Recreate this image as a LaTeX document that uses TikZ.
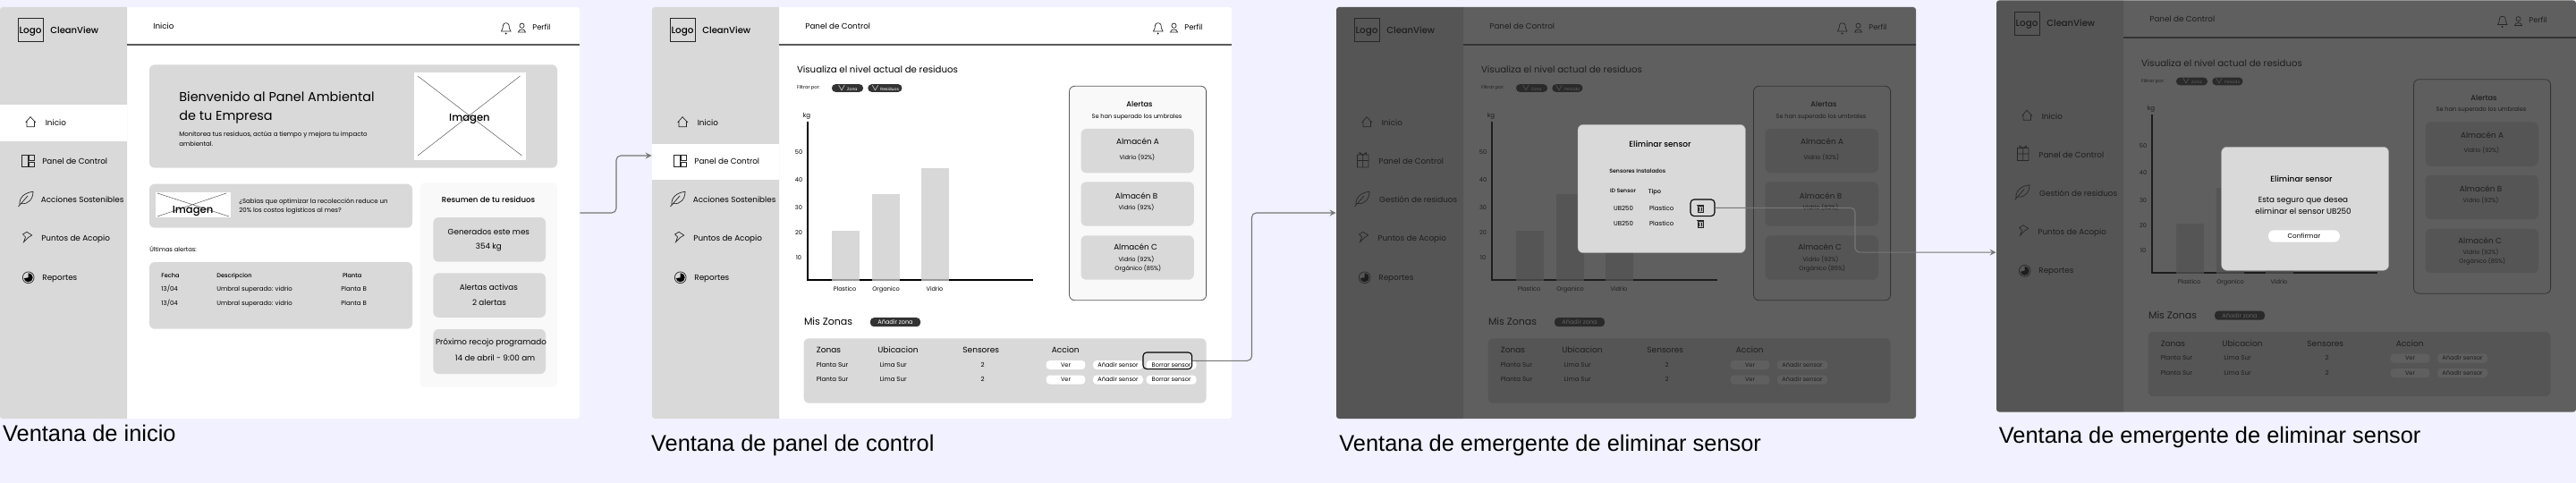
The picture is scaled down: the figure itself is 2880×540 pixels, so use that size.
\documentclass[tikz,border=0pt]{standalone}
\usepackage{fontspec}
\setmainfont{Poppins}
\newfontfamily\capfont{Liberation Sans}
\newfontfamily\medfont{Poppins Medium}
\definecolor{pagebg}{HTML}{F1F1FF}
\definecolor{cardgray}{HTML}{D9D9D9}
\definecolor{softgray}{HTML}{F9F9F9}
\definecolor{chipdark}{HTML}{333333}
\definecolor{linegray}{HTML}{5A5A5A}
\definecolor{linkgray}{HTML}{767676}
\definecolor{dimgray}{HTML}{282828}
\newcommand{\fs}[1]{\fontsize{#1}{#1}\selectfont}

% side bar and header of every screen
\newcommand{\screenshell}[4]{
    \node [screenbox] (frame) at (324,238) {};
    \fill [cardgray] (142,8) [rounded corners=1.5pt] -- (0,8) -- (0,468) [sharp corners] -- (142,468) -- cycle;
    \draw [linegray, line width=1pt] (142,50) -- (648,50);
    \node [rowmark, minimum height=20.3pt] (active) at (71,#2) {};
    \draw [icon] (20,20.7) rectangle (48,46.7);
    \node [mtxt, msz=5.2] (logo) at (34,34) {Logo};
    \node [txt, msz=5] (brand) at (56,34) {CleanView};
    \node [txt, sz=4.4] (title) at (171,29.5) {#1};
    \node [txt, sz=4.2] (perfil) at (595,30.7) {Perfil};
    \draw [icon] (560.5,35) .. controls (562.5,33) and (562,30) .. (562.5,28) .. controls (563,25) and (568.5,25) .. (569,28) .. controls (569.5,30) and (569,33) .. (571,35) -- cycle;
    \fill (565.7,37.5) circle (1);
    \draw [icon] (583.5,28.7) circle (2.6) (579.5,36) .. controls (579.5,32) and (587.5,32) .. (587.5,36) -- cycle;
    \node [menu] (inicio) at (50.4,137.7) {Inicio};
    \node [menu] (panel) at (47,181) {Panel de Control};
    \node [menu] (acciones) at (#3,223.7) {#4};
    \node [menu] (puntos) at (46,266.7) {Puntos de Acopio};
    \node [menu] (reportes) at (47,310.3) {Reportes};
    \draw [icon] (28.6,137) -- (34,130.7) -- (40,137) (30,135.5) -- (30,141.7) -- (38.5,141.7) -- (38.5,135.5);
    \draw [icon] (22,229) .. controls (21,220) and (29,215) .. (37,214.3) .. controls (37,222) and (32,229) .. (23.5,227.5) (20.5,231) -- (31,219);
    \draw [icon] (25.5,262) -- (30,259.3) -- (35.7,263) -- (31.5,265.5) -- (26.5,270.7) -- (28.5,265) -- cycle;
    \draw [icon] (31.7,310.3) circle (6.4);
    \fill (31.7,305.3) arc [start angle=-90, end angle=170, radius=5] -- (31.7,310.3) -- cycle;
}

% chart, alerts and zones of the control screens
\newcommand{\controlboard}[2]{
    \node [txt, sz=5.1] (heading) at (161.6,78.3) {Visualiza el nivel actual de residuos};
    \node [txt, sz=2.6] (filtrar) at (161.6,98) {Filtrar por:};
    \node [chip, minimum width=17.5pt] (chipzona) at (218.5,98.5) {$\vee$ Zona};
    \node [chip, minimum width=#1pt, anchor=west] (chipotro) at (241,98.5) {$\vee$ #2};
    \node [mtxt, sz=3.5] (kg) at (173,129) {kg};
    \foreach \val/\y in {50/170.7, 40/201.3, 30/232, 20/260, 10/288}
        \node [mtxt, sz=3.3] (y\val) at (164,\y) {\val};
    \draw [line width=1pt] (174,136) -- (174,312.7) -- (426.3,312.7);
    \foreach \xa/\xb/\ytop in {201/231.7/257.7, 246/276.8/217, 301/332/187.7}
        \fill [black!20, fill opacity=.75] (\xa,\ytop) rectangle (\xb,313.7);
    \foreach \x/\name in {215.6/Plastico, 261.6/Organico, 316/Vidrio}
        \node [mtxt, sz=3.3] (bar\name) at (\x,323.3) {\name};
    \draw [fill=softgray, draw=linegray, line width=.4pt, rounded corners=3pt] (466.5,96.3) rectangle (619.6,335.7);
    \node [mtxt, msz=4.1] (alertas) at (545,117) {Alertas};
    \node [mtxt, sz=3.3] (umbrales) at (542,130) {Se han superado los umbrales};
    \foreach \ya/\yb in {144/193.3, 203.3/252.7, 263.3/312.7}
        \fill [cardgray, rounded corners=3pt] (479.5,\ya) rectangle (605.8,\yb);
    \node [mtxt, sz=4.4] (almacenA) at (543,158.7) {Almacén A};
    \node [mtxt, sz=3.3] (vidrioA) at (542.4,176) {Vidrio (92\%)};
    \node [mtxt, sz=4.4] (almacenB) at (541.5,219.3) {Almacén B};
    \node [mtxt, sz=3.3] (vidrioB) at (541.5,232.3) {Vidrio (92\%)};
    \node [mtxt, sz=4.4] (almacenC) at (540.6,276.7) {Almacén C};
    \node [mtxt, sz=3.3] (vidrioC) at (541.5,290.3) {Vidrio (92\%)};
    \node [mtxt, sz=3.3] (organicoC) at (543.3,300.3) {Orgánico (85\%)};
    \node [txt, sz=5.5] (zonas) at (169.6,360) {Mis Zonas};
    \node [chip, font=\fs{3.3}, minimum width=28pt, minimum height=5pt] (addzona) at (272,360.2) {Añadir zona};
    \fill [cardgray, rounded corners=3pt] (169.6,378.3) rectangle (619.6,450.7);
    \foreach \x/\name in {183.5/Zonas, 252/Ubicacion, 347/Sensores, 446.4/Accion}
        \node [txt, sz=4.5] (head\name) at (\x,392) {\name};
    \foreach \i/\y in {1/408, 2/424.5} {
        \node [txt, sz=3.5] (zona\i) at (183.5,\y) {Planta Sur};
        \node [txt, sz=3.5] (lugar\i) at (254.5,\y) {Lima Sur};
        \node [mtxt, sz=3.5] (num\i) at (369.6,\y) {2};
        \node [btn, minimum width=21.9pt] (ver\i) at (462.5,\y) {Ver};
        \node [btn, minimum width=28pt] (add\i) at (521,\y) {Añadir sensor};
    }
}

\begin{document}
\begin{tikzpicture}[x=.5pt, y=-.5pt]
    % Styles
    \tikzstyle{screenbox} = [rectangle, fill=white, minimum width=324pt, minimum height=230pt, inner sep=0pt, rounded corners=1.5pt]
    \tikzstyle{rowmark} = [rectangle, fill=white, minimum width=71pt, inner sep=0pt]
    \tikzset{sz/.style={font=\fs{#1}, yshift=-.32*#1 pt}, msz/.style={font=\medfont\fs{#1}, yshift=-.32*#1 pt}}
    \tikzstyle{txt} = [anchor=base west, inner sep=0pt]
    \tikzstyle{mtxt} = [anchor=base, inner sep=0pt]
    \tikzstyle{menu} = [txt, sz=4.4]
    \tikzstyle{icon} = [draw=black!85, line width=.35pt]
    \tikzstyle{chip} = [rectangle, fill=chipdark, text=white, font=\fs{2.3}, rounded corners=2pt, inner sep=0pt, minimum height=4.3pt]
    \tikzstyle{btn} = [rectangle, fill=white, font=\fs{3.3}, rounded corners=2pt, inner sep=0pt, minimum height=5pt]
    \tikzstyle{caption} = [anchor=base west, inner sep=0pt, font=\capfont\fs{12.7}]
    \tikzstyle{focusbox} = [rectangle, draw=black, line width=.55pt, rounded corners=2pt, inner sep=0pt]
    \tikzstyle{link} = [draw=linkgray, line width=.55pt, rounded corners=2.5pt, ->, >=stealth]
    \tikzstyle{dimmer} = [dimgray, fill opacity=.74, rounded corners=1.5pt]
    \tikzstyle{popup} = [fill=cardgray, draw=black!35, line width=.2pt, rounded corners=3pt]

    \fill [pagebg] (0,0) rectangle (2880,540);
    \useasboundingbox (0,0) rectangle (2880,540);

    % Ventana de inicio
    \begin{scope}[name prefix=home-]
        \screenshell{Inicio}{137.3}{45.5}{Acciones Sostenibles}
        \draw [icon] (24.5,173.3) rectangle (31.2,186.7) (32.6,173.3) rectangle (38,179) (32.6,181) rectangle (38,186.7);
        \fill [cardgray, rounded corners=3pt] (167,72.3) rectangle (623,187.7);
        \node [txt, sz=7.2] (hello) at (200,109) {Bienvenido al Panel Ambiental};
        \node [txt, sz=7.2] (empresa) at (200,130) {de tu Empresa};
        \node [txt, sz=3.5] (monitor) at (200,150.3) {Monitorea tus residuos, actúa a tiempo y mejora tu impacto};
        \node [txt, sz=3.5] (ambiental) at (200,161) {ambiental.};
        \fill [white] (463,80.7) rectangle (588,179.3);
        \draw [linegray, line width=.25pt] (467,85) -- (583.5,174) (581.5,85) -- (467,174);
        \node [mtxt, msz=5.8] (imagenA) at (525,132) {Imagen};
        \fill [cardgray, rounded corners=3pt] (167,205.7) rectangle (461,254.7);
        \fill [white] (174,214.7) rectangle (257.6,242.7);
        \draw [linegray, line width=.25pt] (176,216) -- (256,242) (253,216) -- (176,242);
        \node [mtxt, msz=5.8] (imagenB) at (215.6,235) {Imagen};
        \node [txt, sz=3.5] (sabias) at (267,225) {¿Sabías que optimizar la recolección reduce un};
        \node [txt, sz=3.5] (costos) at (267,235.3) {20\% los costos logísticos al mes?};
        \fill [softgray, rounded corners=3pt] (469.6,204.3) rectangle (623,432.7);
        \node [mtxt, msz=4.3] (resumen) at (546,223.3) {Resumen de tu residuos};
        \foreach \ya/\yb in {243/292.7, 305.3/355, 368/418}
            \fill [cardgray, rounded corners=3pt] (484.4,\ya) rectangle (610,\yb);
        \node [mtxt, sz=4.4] (generados) at (546.4,260) {Generados este mes};
        \node [mtxt, sz=4.4] (kilos) at (546.4,275.3) {354 kg};
        \node [mtxt, sz=4.4] (activas) at (546.4,321.3) {Alertas activas};
        \node [mtxt, sz=4.4] (dos) at (547,339) {2 alertas};
        \node [mtxt, sz=4.4] (proximo) at (549,382.3) {Próximo recojo programado};
        \node [mtxt, sz=4.4] (fecha) at (553.6,400.3) {14 de abril - 9:00 am};
        \node [txt, sz=3.4] (ultimas) at (167,279) {Últimas alertas:};
        \fill [cardgray, rounded corners=3pt] (167,293) rectangle (461,367.7);
        \node [txt, msz=3.3] (colfecha) at (180,308) {Fecha};
        \node [txt, msz=3.3] (coldesc) at (242,308) {Descripcion};
        \node [txt, msz=3.3] (colplanta) at (382.6,308) {Planta};
        \foreach \i/\y in {1/323, 2/339} {
            \node [txt, sz=3.5] (dia\i) at (180,\y) {13/04};
            \node [txt, sz=3.5] (umbral\i) at (242,\y) {Umbral superado: vidrio};
            \node [txt, sz=3.5] (planta\i) at (381,\y) {Planta B};
        }
    \end{scope}
    \node [caption] (capA) at (2.7,493.3) {Ventana de inicio};

    % Ventana de panel de control
    \begin{scope}[shift={(729,0)}, name prefix=ctrl-]
        \screenshell{Panel de Control}{181}{45.5}{Acciones Sostenibles}
        \draw [icon] (24.5,173.3) rectangle (31.2,186.7) (32.6,173.3) rectangle (38,179) (32.6,181) rectangle (38,186.7);
        \controlboard{19}{Residuos}
        \foreach \i/\y in {1/408, 2/424.5}
            \node [btn, minimum width=28pt] (del\i) at (580.6,\y) {Borrar sensor};
        \node [focusbox, minimum width=27.3pt, minimum height=9.3pt] (focus) at (576.3,403.3) {};
    \end{scope}
    \node [caption] (capB) at (727.7,504.3) {Ventana de panel de control};

    % Ventana de emergente, tabla de sensores
    \begin{scope}[shift={(1494,0)}, name prefix=sens-]
        \screenshell{Panel de Control}{-50}{47.8}{Gestión de residuos}
        \draw [icon] (23.5,173) rectangle (36,187) (23.5,179.5) -- (36,179.5) (29.7,173) -- (29.7,187) (26,173) -- (26,170.5) -- (29.7,173) -- (33.5,170.5) -- (33.5,173);
        \controlboard{17}{Periodo}
        \fill [dimmer] (0,8) rectangle (648,468);
        \draw [popup] (270,139.3) rectangle (457.4,282.7);
        \node [mtxt, msz=4.5] (eliminar) at (362,161.7) {Eliminar sensor};
        \node [txt, msz=3.1] (instalados) at (305,191.7) {Sensores Instalados};
        \node [txt, msz=3.1] (idsensor) at (305.6,214) {ID Sensor};
        \node [txt, msz=3.3] (tipo) at (348.5,214.7) {Tipo};
        \foreach \i/\y in {1/233, 2/250.3} {
            \node [mtxt, sz=3.5] (ub\i) at (321,\y) {UB250};
            \node [mtxt, sz=3.5] (pl\i) at (363.7,\y) {Plastico};
            \draw [icon, fill=black!30] (404,\y-3) rectangle (410,\y+4.5) (403,\y-4) -- (411,\y-4) (405.7,\y-1) -- (405.7,\y+3) (408.3,\y-1) -- (408.3,\y+3);
        }
        \node [focusbox, minimum width=13.5pt, minimum height=9.3pt] (focus) at (409.5,232.3) {};
    \end{scope}
    \node [caption] (capC) at (1497,504.3) {Ventana de emergente de eliminar sensor};

    % Ventana de emergente, confirmar
    \begin{scope}[shift={(2232,-7.5)}, name prefix=conf-]
        \screenshell{Panel de Control}{-50}{47.8}{Gestión de residuos}
        \draw [icon] (23.5,173) rectangle (36,187) (23.5,179.5) -- (36,179.5) (29.7,173) -- (29.7,187) (26,173) -- (26,170.5) -- (29.7,173) -- (33.5,170.5) -- (33.5,173);
        \controlboard{17}{Periodo}
        \fill [dimmer] (0,8) rectangle (648,468);
        \draw [popup] (251.6,171.8) rectangle (438.6,309.8);
        \node [mtxt, msz=4.5] (eliminar) at (341,208.2) {Eliminar sensor};
        \node [mtxt, sz=4.4] (seguro) at (343,231.2) {Esta seguro que desea};
        \node [mtxt, sz=4.4] (ubsensor) at (343,244.5) {eliminar el sensor UB250};
        \node [btn, font=\fs{3.6}, minimum width=40pt, minimum height=6.7pt, rounded corners=3.3pt] (confirmar) at (343.9,271.5) {Confirmar};
    \end{scope}
    \node [caption] (capD) at (2234.5,495.7) {Ventana de emergente de eliminar sensor};

    % Arrows
    \coordinate (bendA) at (689,0);
    \coordinate (bendB) at (1399.5,0);
    \coordinate (bendC) at (2074,0);
    \draw [link] (home-frame.east) -- (home-frame.east -| bendA) |- ([yshift=3.3pt]ctrl-panel.west -| ctrl-frame.west);
    \draw [link] (ctrl-focus.east) -- (ctrl-focus.east -| bendB) |- (sens-frame.west);
    \draw [link] (sens-focus.east) -- (sens-focus.east -| bendC) |- ([yshift=-25.8pt]conf-frame.west);
\end{tikzpicture}
\end{document}
